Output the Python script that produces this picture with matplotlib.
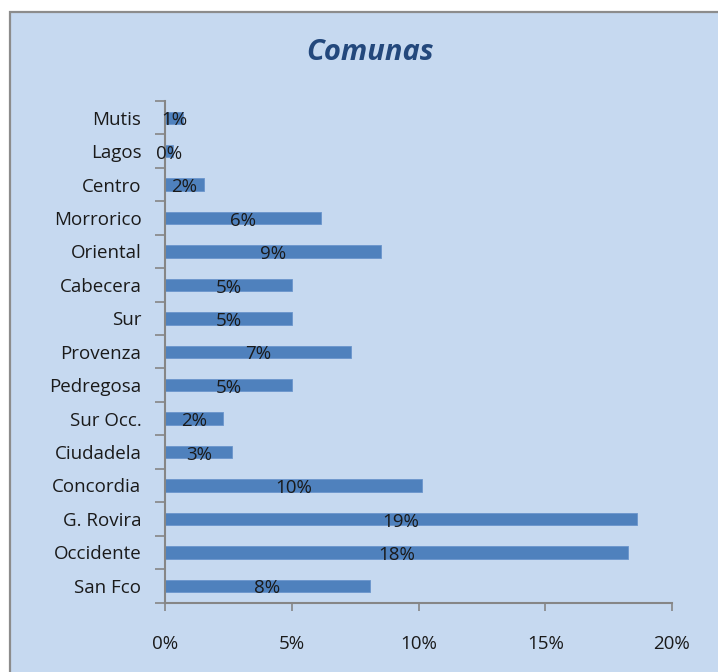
import matplotlib
matplotlib.use("Agg")
import matplotlib.pyplot as plt
from matplotlib.patches import Rectangle
from matplotlib.ticker import FixedLocator, FuncFormatter

# Data (top to bottom as shown in chart)
categories = ["Mutis", "Lagos", "Centro", "Morrorico", "Oriental", "Cabecera", "Sur",
              "Provenza", "Pedregosa", "Sur Occ.", "Ciudadela", "Concordia",
              "G. Rovira", "Occidente", "San Fco"]
values = [0.7, 0.3, 1.54, 6.14, 8.52, 5.02, 5.02, 7.34, 5.02, 2.27, 2.66, 10.12,
          18.62, 18.25, 8.09]
xticks = [0, 5, 10, 15, 20]
title = "Comunas"

W, H = 718, 672
DPI = 100
plt.rcParams['font.family'] = ['Open Sans', 'DejaVu Sans']

fig = plt.figure(figsize=(W / DPI, H / DPI), dpi=DPI)
fig.patch.set_facecolor("white")

bg = "#C6D9F0"
# chart frame
frame = Rectangle((10 / W, 0 - 0.05), (W + 20) / W, (H - 12) / H + 0.05,
                  transform=fig.transFigure, facecolor=bg, edgecolor="#8C8C8C",
                  linewidth=1.6, zorder=-10)
fig.patches.append(frame)

ax = fig.add_axes([165 / W, (H - 602.5) / H, 507 / W, 501.5 / H])
ax.set_facecolor("none")
ax.set_zorder(5)

n = len(categories)
ypos = list(range(n))[::-1]  # first category at top
ax.barh(ypos, values, height=0.37, color="#4F81BD", edgecolor="#6A95CC",
        linewidth=0.6, zorder=2)

for y, v in zip(ypos, values):
    ax.text(v / 2, y - 0.08, f"{round(v)}%", ha="center", va="center",
            fontsize=13.5, color="#1A1A1A", zorder=3)

ax.set_xlim(0, 20)
ax.set_ylim(-0.5, n - 0.5)

# y: tick marks at boundaries, labels at centers
ax.yaxis.set_major_locator(FixedLocator([i - 0.5 for i in range(n + 1)]))
ax.yaxis.set_minor_locator(FixedLocator(ypos))
ax.yaxis.set_major_formatter(FuncFormatter(lambda v, p: ""))
ax.yaxis.set_minor_formatter(FuncFormatter(
    lambda v, p: categories[n - 1 - int(round(v))]))
ax.tick_params(axis="y", which="major", length=7.2, width=1.2, color="#868686",
               direction="out")
ax.tick_params(axis="y", which="minor", length=0, pad=17, labelsize=13.5,
               labelcolor="#1A1A1A")

ax.set_xticks(xticks)
ax.xaxis.set_major_formatter(FuncFormatter(lambda v, p: f"{int(v)}%"))
ax.tick_params(axis="x", length=5.5, width=1.2, color="#868686", pad=18,
               labelsize=13.5, labelcolor="#1A1A1A")

for s in ["top", "right"]:
    ax.spines[s].set_visible(False)
for s in ["left", "bottom"]:
    ax.spines[s].set_color("#868686")
    ax.spines[s].set_linewidth(1.5)

fig.text(369.5 / W, 1 - 52 / H, title, ha="center", va="center",
         fontsize=21, fontweight="bold", fontstyle="italic", color="#23487C")

fig.savefig("out.png", dpi=DPI)
